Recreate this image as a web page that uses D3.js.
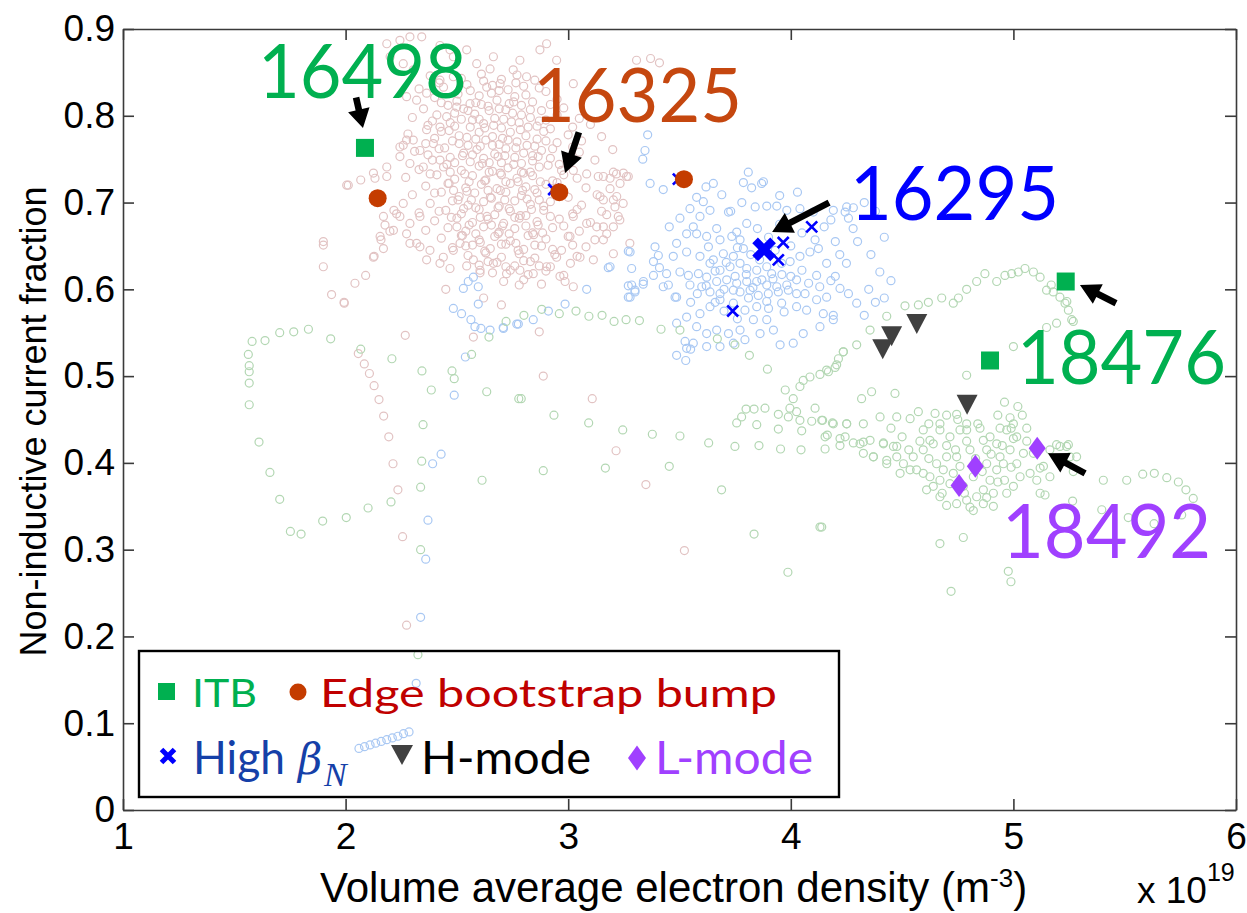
<!DOCTYPE html>
<html>
<head>
<meta charset="utf-8">
<script src="https://cdn.jsdelivr.net/npm/d3@7"></script>
<style>
  body { margin: 0; background: #fff; }
  svg { display: block; }
</style>
</head>
<body>
<svg id="chart" width="1247" height="913"></svg>
<script>
// ---- axis ticks ----
const xTicks = [1, 2, 3, 4, 5, 6];
const yTicks = [0, 0.1, 0.2, 0.3, 0.4, 0.5, 0.6, 0.7, 0.8, 0.9];

// ---- background database points (density, non-inductive fraction) ----
const pinkPoints = [
  // main cloud
  [2.38,0.846],[2.52,0.843],[2.61,0.848],[2.70,0.842],[2.77,0.847],[2.85,0.841],
  [2.44,0.833],[2.56,0.829],[2.66,0.835],[2.73,0.830],[2.80,0.834],[2.90,0.828],[2.33,0.831],
  [2.40,0.821],[2.50,0.817],[2.60,0.823],[2.68,0.818],[2.76,0.822],[2.84,0.816],[2.95,0.819],
  [2.35,0.808],[2.46,0.812],[2.55,0.806],[2.64,0.811],[2.72,0.807],[2.79,0.812],[2.88,0.806],[2.98,0.809],
  [2.30,0.798],[2.41,0.801],[2.52,0.796],[2.58,0.802],[2.67,0.797],[2.75,0.803],[2.83,0.798],[2.95,0.801],[3.05,0.797],
  [2.37,0.789],[2.47,0.792],[2.56,0.787],[2.62,0.791],[2.70,0.786],[2.78,0.792],[2.86,0.788],[2.92,0.785],[3.10,0.790],
  [2.28,0.779],[2.43,0.782],[2.51,0.777],[2.60,0.781],[2.66,0.776],[2.74,0.781],[2.81,0.777],[2.89,0.782],[3.00,0.778],[3.15,0.776],
  [2.36,0.768],[2.48,0.771],[2.55,0.766],[2.63,0.772],[2.69,0.767],[2.77,0.770],[2.85,0.765],[2.95,0.769],[3.06,0.771],
  [2.31,0.759],[2.42,0.762],[2.53,0.757],[2.59,0.761],[2.67,0.756],[2.72,0.762],[2.80,0.757],[2.88,0.760],[3.05,0.758],[3.20,0.761],
  [2.39,0.749],[2.47,0.752],[2.56,0.747],[2.62,0.751],[2.70,0.746],[2.76,0.752],[2.84,0.748],[2.92,0.751],[3.00,0.746],[3.12,0.749],
  [2.33,0.738],[2.44,0.741],[2.52,0.737],[2.60,0.742],[2.66,0.736],[2.73,0.740],[2.79,0.735],[2.87,0.741],[2.97,0.737],
  [2.27,0.729],[2.41,0.732],[2.49,0.727],[2.57,0.731],[2.63,0.726],[2.70,0.732],[2.77,0.728],[2.84,0.731],[2.93,0.725],[3.04,0.728],
  [2.36,0.719],[2.46,0.722],[2.54,0.717],[2.61,0.721],[2.68,0.716],[2.74,0.722],[2.81,0.718],[2.90,0.721],[3.08,0.717],
  [2.30,0.709],[2.43,0.712],[2.51,0.707],[2.58,0.711],[2.65,0.706],[2.72,0.712],[2.79,0.708],[2.86,0.711],[3.00,0.706],[3.13,0.709],
  [2.38,0.699],[2.48,0.702],[2.55,0.697],[2.62,0.701],[2.69,0.696],[2.76,0.702],[2.83,0.698],[2.92,0.701],[3.06,0.697],
  [2.33,0.688],[2.45,0.691],[2.52,0.687],[2.60,0.692],[2.67,0.686],[2.74,0.690],[2.81,0.685],[2.89,0.691],[3.02,0.687],[3.15,0.690],
  [2.40,0.679],[2.50,0.682],[2.57,0.677],[2.64,0.681],[2.71,0.676],[2.78,0.682],[2.86,0.678],[2.96,0.681],[3.10,0.677],
  [2.36,0.668],[2.46,0.671],[2.54,0.667],[2.62,0.672],[2.69,0.666],[2.76,0.670],[2.84,0.665],[2.93,0.671],[3.05,0.667],
  [2.43,0.659],[2.52,0.662],[2.60,0.657],[2.67,0.661],[2.74,0.656],[2.82,0.662],[2.90,0.658],[3.00,0.661],[3.12,0.657],
  [2.48,0.648],[2.57,0.651],[2.65,0.647],[2.72,0.652],[2.80,0.646],[2.88,0.650],[2.97,0.645],[3.08,0.649],
  [2.55,0.639],[2.63,0.642],[2.70,0.637],[2.78,0.641],[2.85,0.636],[2.94,0.640],[3.04,0.638],
  [2.60,0.628],[2.68,0.631],[2.76,0.627],[2.83,0.632],[2.92,0.626],[3.01,0.630],
  [2.66,0.619],[2.74,0.622],[2.82,0.617],[2.90,0.621],[2.98,0.616],
  [2.71,0.609],[2.80,0.611],[2.88,0.606],
  [2.505,0.825],[2.585,0.815],[2.655,0.826],[2.735,0.814],[2.81,0.824],
  [2.49,0.803],[2.57,0.795],[2.645,0.806],[2.71,0.796],[2.79,0.801],[2.87,0.794],
  [2.465,0.783],[2.545,0.775],[2.625,0.786],[2.705,0.774],[2.785,0.784],[2.86,0.773],
  [2.445,0.763],[2.525,0.754],[2.605,0.765],[2.685,0.753],[2.765,0.763],[2.84,0.754],[2.93,0.762],
  [2.455,0.744],[2.535,0.733],[2.615,0.745],[2.695,0.734],[2.755,0.744],[2.83,0.735],[2.91,0.743],
  [2.465,0.722],[2.545,0.713],[2.625,0.725],[2.695,0.714],[2.775,0.724],[2.85,0.715],[2.95,0.723],
  [2.505,0.703],[2.585,0.694],[2.655,0.705],[2.735,0.693],[2.815,0.704],[2.89,0.696],
  [2.475,0.683],[2.555,0.674],[2.635,0.684],[2.705,0.673],[2.785,0.685],[2.865,0.674],
  [2.525,0.662],[2.605,0.654],[2.685,0.664],[2.765,0.653],[2.845,0.663],
  [2.42,0.838],[2.545,0.836],[2.62,0.840],[2.69,0.829],[2.765,0.838],[2.87,0.832],
  [2.43,0.815],[2.53,0.808],[2.61,0.813],[2.69,0.808],[2.755,0.816],[2.83,0.807],[2.92,0.813],
  [2.39,0.794],[2.49,0.788],[2.60,0.796],[2.665,0.789],[2.745,0.793],[2.82,0.787],[2.90,0.795],[3.02,0.787],
  [2.40,0.774],[2.51,0.768],[2.585,0.773],[2.66,0.766],[2.73,0.772],[2.815,0.766],[2.90,0.771],[3.02,0.764],
  [2.37,0.755],[2.49,0.746],[2.57,0.755],[2.645,0.746],[2.715,0.754],[2.79,0.745],[2.865,0.753],[2.96,0.744],
  [2.38,0.733],[2.47,0.735],[2.555,0.724],[2.645,0.735],[2.72,0.724],[2.80,0.734],[2.875,0.724],[2.98,0.732],
  [2.40,0.711],[2.485,0.714],[2.565,0.703],[2.64,0.714],[2.715,0.703],[2.795,0.714],[2.87,0.703],[2.96,0.712],
  [2.42,0.690],[2.53,0.693],[2.605,0.683],[2.685,0.694],[2.76,0.683],[2.835,0.692],[2.92,0.684],[3.04,0.692],
  [2.50,0.672],[2.585,0.664],[2.655,0.674],[2.735,0.664],[2.81,0.673],[2.885,0.665],[2.98,0.673],
  [2.54,0.650],[2.625,0.644],[2.70,0.652],[2.775,0.645],[2.85,0.651],[2.93,0.646],[3.02,0.651],
  [2.64,0.632],[2.72,0.626],[2.80,0.633],[2.87,0.627],
  // upper fringe
  [2.185,0.883],[2.244,0.887],[2.289,0.891],[2.342,0.891],[2.200,0.868],[2.259,0.860],[2.304,0.853],
  [2.274,0.822],[2.319,0.818],[2.364,0.826],[2.424,0.841],[2.484,0.845],[2.544,0.876],[2.484,0.868],
  [2.589,0.860],[2.649,0.854],[2.634,0.833],[2.694,0.837],[2.454,0.799],[2.499,0.810],[2.559,0.814],
  [2.424,0.787],[2.364,0.784],[2.304,0.772],[2.259,0.766],[2.334,0.760],[2.394,0.768],
  [2.244,0.753],[2.289,0.745],[2.349,0.741],[2.424,0.749],
  [2.424,0.881],[2.469,0.876],[2.664,0.868],[2.753,0.853],[2.783,0.864],[2.813,0.845],
  [2.873,0.876],[2.903,0.883],[2.948,0.864],[3.023,0.837],[3.307,0.864],[3.37,0.866],[3.41,0.861],
  // left fringe
  [2.012,0.720],[2.068,0.726],[2.125,0.734],[2.132,0.728],[2.185,0.741],[2.217,0.691],[2.229,0.687],
  [2.177,0.674],[2.199,0.667],[2.159,0.657],[2.170,0.647],[2.128,0.638],[2.090,0.616],[2.042,0.607],
  [1.937,0.594],[1.993,0.585],[1.900,0.655],[1.900,0.651],[1.900,0.626],[2.244,0.684],[2.274,0.664],
  [2.289,0.653],[2.334,0.649],[2.379,0.645],[2.439,0.637],[2.484,0.645],[2.514,0.653],[2.574,0.634],
  [2.604,0.622],[2.664,0.630],[2.005,0.720],[2.185,0.730],[2.244,0.764],[2.274,0.772],[2.170,0.684],
  [2.215,0.668],[2.155,0.661],[2.125,0.637],[2.259,0.699],[2.289,0.676],[2.319,0.653],[2.364,0.634],
  [2.334,0.684],[2.424,0.630],[2.469,0.624],[2.544,0.627],[2.604,0.619],[2.723,0.618],[2.783,0.622],
  [2.843,0.618],[2.903,0.626],[2.963,0.615],[2.45,0.600],[2.62,0.590],[2.78,0.605],[2.70,0.582],
  // right fringe
  [3.023,0.737],[3.083,0.733],[3.135,0.730],[3.188,0.728],[3.217,0.733],[3.262,0.730],[3.143,0.707],
  [3.203,0.703],[3.247,0.699],[3.023,0.684],[3.083,0.676],[3.128,0.672],[3.173,0.664],[3.232,0.680],
  [3.008,0.661],[3.053,0.637],[3.113,0.634],[2.948,0.637],[3.277,0.653],
  [3.158,0.730],[3.203,0.735],[3.248,0.734],[3.270,0.730],[3.233,0.722],[3.188,0.716],[3.218,0.707],
  [3.158,0.703],[3.210,0.695],[3.173,0.686],[3.225,0.684],[3.158,0.672],[3.203,0.672],[3.158,0.657],[3.203,0.641],
  // descending trail and scattered low points
  [1.994,0.584],[2.268,0.547],[2.574,0.545],[2.057,0.526],[2.084,0.514],[2.107,0.503],[2.128,0.489],
  [2.150,0.473],[2.171,0.454],[2.194,0.430],[2.213,0.399],[2.235,0.369],[2.256,0.315],[2.274,0.213],
  [2.986,0.609],[3.023,0.603],[2.870,0.551],[2.888,0.500],[3.108,0.474],[3.215,0.414],[3.349,0.375],[3.522,0.299]
];

const bluePoints = [
  [3.357,0.778],[3.345,0.760],[3.335,0.750],[3.368,0.722],[3.427,0.715],[3.619,0.718],[3.652,0.722],
  [3.690,0.709],[3.577,0.706],[3.607,0.701],[3.547,0.693],[3.502,0.682],[3.454,0.672],[3.562,0.672],
  [3.592,0.684],[3.637,0.691],[3.720,0.689],[3.787,0.723],[3.809,0.735],[3.824,0.717],[3.869,0.722],
  [3.892,0.696],[3.937,0.696],[3.982,0.691],[4.041,0.693],[4.101,0.689],[4.191,0.691],[4.244,0.689],
  [4.281,0.694],[4.259,0.682],[3.802,0.676],[3.757,0.666],[3.667,0.670],[3.622,0.661],[3.577,0.664],
  [3.532,0.664],[3.487,0.653],[3.390,0.649],[3.405,0.639],[3.472,0.638],[3.532,0.643],[3.630,0.649],
  [3.682,0.657],[3.735,0.661],[3.772,0.657],[3.787,0.647],[3.742,0.638],[3.697,0.641],[3.652,0.634],
  [3.592,0.638],[3.637,0.630],[3.682,0.622],[3.727,0.626],[3.772,0.630],[3.802,0.624],[3.847,0.622],
  [3.892,0.626],[3.914,0.618],[3.959,0.630],[3.997,0.632],[4.041,0.638],[4.086,0.643],[4.109,0.657],
  [4.124,0.647],[4.161,0.630],[4.116,0.616],[4.026,0.611],[3.982,0.605],[3.937,0.603],[3.892,0.605],
  [3.847,0.609],[3.802,0.609],[3.757,0.607],[3.712,0.611],[3.667,0.609],[3.622,0.614],[3.585,0.618],
  [3.540,0.616],[3.502,0.620],[3.442,0.618],[3.383,0.616],[3.338,0.609],[3.285,0.605],[3.270,0.591],
  [3.300,0.597],[3.427,0.603],[3.480,0.591],[3.547,0.605],[3.600,0.603],[3.637,0.597],[3.682,0.595],
  [3.742,0.599],[3.772,0.597],[3.817,0.599],[3.854,0.593],[3.899,0.595],[3.944,0.597],[3.989,0.599],
  [4.026,0.595],[4.064,0.595],[4.116,0.588],[4.161,0.591],[4.221,0.601],[4.259,0.595],[4.296,0.584],
  [4.191,0.570],[4.146,0.572],[4.071,0.576],[4.026,0.580],[3.959,0.584],[3.892,0.586],[3.847,0.580],
  [3.794,0.576],[3.742,0.584],[3.682,0.588],[3.637,0.580],[3.592,0.572],[3.532,0.568],[3.487,0.561],
  [3.577,0.557],[3.622,0.549],[3.667,0.553],[3.720,0.549],[3.772,0.553],[3.832,0.565],[3.892,0.565],
  [3.922,0.553],[3.862,0.549],[3.794,0.542],[3.742,0.538],[3.682,0.534],[3.622,0.534],[3.562,0.538],
  [3.532,0.532],[3.487,0.524],[3.952,0.536],[4.011,0.538],[4.056,0.549],[4.131,0.557],[4.191,0.565],
  [3.188,0.626],[3.278,0.643],[3.383,0.632],
  [3.70,0.600],[3.75,0.615],[3.80,0.617],[3.83,0.602],[3.87,0.611],[3.92,0.612],[3.96,0.617],
  [3.86,0.634],[3.82,0.640],[3.76,0.648],[3.71,0.631],[3.66,0.621],[3.62,0.604],[3.70,0.575],
  [3.76,0.566],[3.81,0.590],[3.90,0.578],[3.97,0.574],[4.00,0.615],[4.05,0.622],[4.08,0.607],
  [4.13,0.603],[4.18,0.610],[4.00,0.650],[3.93,0.645],[3.90,0.660],[3.85,0.670],[3.95,0.675],
  [4.05,0.665],[4.15,0.672],[4.20,0.655],[4.22,0.640],[4.18,0.680],[4.28,0.670],[3.73,0.690],
  [3.78,0.700],[3.84,0.695],[3.95,0.708],[4.03,0.712],[3.66,0.585],[3.55,0.585],[3.58,0.595],
  [3.45,0.605],[3.41,0.625],
  [2.709,0.555],[2.776,0.560],[2.843,0.565],[2.911,0.575],[2.986,0.583],[3.083,0.600],[3.270,0.604],
  [3.300,0.599],[3.337,0.606],[3.278,0.591],[3.487,0.591],[3.528,0.518],[3.550,0.531],[3.525,0.540],
  [3.270,0.644],[3.285,0.624],[3.180,0.625],
  [3.877,0.724],[4.251,0.695],[4.33,0.700],[4.38,0.690],[4.42,0.660],[4.36,0.640],[4.30,0.655],
  [4.25,0.630],[4.20,0.615],[4.40,0.620],[4.35,0.600],[4.38,0.585],[4.42,0.590],[4.33,0.570],[4.45,0.610],
  [2.484,0.578],[2.521,0.572],[2.563,0.565],[2.581,0.557],[2.608,0.555],[2.649,0.553],[2.708,0.556],
  [2.769,0.560],[2.596,0.583],[2.538,0.522],[2.488,0.478],[2.429,0.410],[2.391,0.399],[2.370,0.334],
  [2.360,0.289],[2.337,0.222],
  [2.529,0.601],[2.574,0.614],[2.596,0.603],[2.551,0.609],
  [2.060,0.071],[2.085,0.073],[2.110,0.075],[2.135,0.077],[2.160,0.079],[2.185,0.081],[2.210,0.083],
  [2.235,0.085],[2.260,0.088],[2.285,0.090],[2.317,0.146]
];

const greenPoints = [
  // left loop
  [1.563,0.525],[1.567,0.512],[1.567,0.505],[1.567,0.492],[1.567,0.467],[1.580,0.540],[1.638,0.541],
  [1.704,0.550],[1.767,0.551],[1.833,0.554],[1.933,0.543],[2.068,0.531],[2.208,0.520],[2.343,0.506],
  [2.385,0.484],[2.478,0.506],[2.488,0.497],[2.634,0.482],[2.566,0.525],[2.644,0.545],[2.721,0.563],
  [2.348,0.444],[2.342,0.402],[2.337,0.372],[2.204,0.355],[2.101,0.348],[2.003,0.337],[1.897,0.333],
  [1.800,0.318],[1.752,0.321],[1.704,0.358],[1.660,0.389],[1.611,0.424],[2.337,0.300],[2.613,0.380],
  [2.778,0.474],[2.325,0.179],
  // middle band
  [2.801,0.570],[2.881,0.577],[2.960,0.572],[3.035,0.575],[3.093,0.569],[3.152,0.570],[3.206,0.563],
  [3.260,0.565],[3.320,0.564],[3.417,0.554],[3.502,0.553],[3.670,0.543],[3.749,0.536],[3.814,0.524],
  [3.895,0.508],[3.975,0.484],[4.041,0.488],[4.056,0.495],[4.086,0.499],[4.131,0.502],[4.169,0.505],
  [4.199,0.510],[4.214,0.520],[4.236,0.528],[4.011,0.474],[3.996,0.463],[4.026,0.459],[3.989,0.453],
  [3.944,0.456],[3.884,0.463],[3.835,0.462],[3.799,0.462],[3.779,0.453],[3.757,0.446],[3.847,0.444],
  [3.944,0.439],[4.049,0.437],[4.041,0.449],[4.094,0.448],[4.109,0.463],[4.143,0.449],[4.187,0.446],
  [4.251,0.445],[4.164,0.432],[4.244,0.430],[4.221,0.420],[4.154,0.416],[4.046,0.415],[3.954,0.416],
  [3.857,0.420],[3.749,0.419],[3.631,0.423],[3.502,0.431],[3.378,0.433],[3.245,0.438],[3.092,0.446],
  [2.936,0.455],[2.789,0.474],[2.888,0.391],[3.167,0.394],[3.454,0.396],[3.689,0.369],[3.835,0.318],
  [4.131,0.326],[3.987,0.274],
  // upper loop toward 18476
  [4.161,0.507],[4.206,0.513],[4.236,0.528],[4.296,0.536],[4.356,0.553],[4.431,0.569],[4.513,0.581],
  [4.573,0.582],[4.618,0.585],[4.678,0.590],[4.730,0.584],[4.753,0.590],[4.790,0.600],[4.835,0.609],
  [4.872,0.618],[4.925,0.609],[4.962,0.616],[4.992,0.618],[5.022,0.620],[5.052,0.624],[5.090,0.620],
  [5.120,0.614],[5.149,0.599],[5.179,0.597],[5.209,0.591],[5.232,0.584],[5.247,0.576],[5.262,0.565],
  [5.269,0.563],[5.194,0.561],[5.149,0.556],[5.000,0.534],[4.790,0.501],[4.468,0.480],[4.363,0.482],
  [4.318,0.474],[5.17,0.605],[5.24,0.586],
  // dense cluster near 18492
  [4.139,0.449],[4.191,0.445],[4.251,0.445],[4.326,0.445],[4.401,0.453],[4.476,0.453],[4.536,0.451],
  [4.573,0.459],[4.648,0.457],[4.745,0.456],[4.790,0.445],[4.154,0.430],[4.221,0.428],[4.281,0.423],
  [4.326,0.424],[4.371,0.407],[4.416,0.423],[4.476,0.419],[4.431,0.403],
  [4.670,0.438],[4.715,0.430],[4.760,0.438],[4.640,0.422],[4.595,0.415],[4.550,0.407],[4.506,0.399],
  [4.565,0.392],[4.625,0.384],[4.685,0.392],[4.745,0.407],[4.805,0.415],[4.865,0.426],[4.895,0.430],
  [4.925,0.422],[4.970,0.438],[5.000,0.445],[5.015,0.430],[4.985,0.415],[4.955,0.399],[4.925,0.392],
  [4.895,0.380],[4.865,0.369],[4.835,0.361],[4.790,0.357],[4.745,0.353],[4.700,0.351],[4.670,0.361],
  [4.640,0.373],[4.610,0.369],[4.715,0.376],[4.775,0.373],[4.820,0.384],[4.880,0.399],[4.940,0.407],
  [5.015,0.399],[5.030,0.384],[5.000,0.373],[4.970,0.365],[4.910,0.365],[4.865,0.353],[4.805,0.349],
  [4.760,0.396],[4.700,0.407],[4.655,0.399],[4.595,0.388],[4.536,0.392],[4.491,0.388],[4.476,0.407],
  [4.431,0.399],[4.461,0.419],[4.416,0.422],[4.356,0.426],[4.311,0.422],[4.326,0.411],[4.371,0.407],
  [4.595,0.438],[4.625,0.426],[4.670,0.445],[4.790,0.438],[4.880,0.415],[5.045,0.411],[5.075,0.388],
  [5.105,0.380],[5.135,0.396],[5.164,0.415],[5.194,0.421],[5.239,0.419],[5.254,0.407],[5.120,0.365],
  [5.284,0.407],[5.269,0.390],[5.247,0.421],[5.209,0.419],[5.164,0.384],[5.120,0.394],[5.090,0.411],
  [4.990,0.440],[5.000,0.428],[4.985,0.452],[4.850,0.440],[4.930,0.455],
  [4.70,0.420],[4.74,0.415],[4.79,0.425],[4.83,0.405],[4.86,0.390],[4.90,0.410],[4.95,0.420],
  [4.99,0.395],[4.93,0.378],[4.88,0.360],[4.78,0.365],[4.73,0.388],[4.67,0.380],[4.62,0.405],
  [4.58,0.425],[4.53,0.415],[4.50,0.430],[4.45,0.440],[5.04,0.455],[5.06,0.440],[5.02,0.465],
  [5.06,0.425],[4.96,0.470],[4.94,0.440],[4.84,0.445],[4.75,0.450],[4.70,0.455],[4.62,0.445],
  [4.68,0.365],[4.82,0.345],[4.91,0.350],[4.96,0.380],
  // tail to the right and scattered low points
  [5.404,0.380],[5.509,0.380],[5.581,0.387],[5.633,0.388],[5.689,0.383],[5.741,0.378],[5.775,0.369],
  [5.808,0.359],[5.756,0.340],[5.632,0.330],[5.516,0.337],[5.397,0.346],[5.266,0.356],[5.142,0.363],
  [4.977,0.275],[4.989,0.263],[4.720,0.252],[4.670,0.307],[4.775,0.314],[4.139,0.326]
];

// ---- highlighted discharges ----
const itbPoints = [[2.087, 0.763], [5.235, 0.609], [4.895, 0.518]];
const edgeBumpPoints = [[2.144, 0.705], [2.960, 0.712], [3.520, 0.727]];
const highBetaPoints = [[2.075, 0.763], [2.935, 0.715], [3.495, 0.727], [3.966, 0.654], [3.944, 0.634], [4.094, 0.672], [3.739, 0.575]];
const highBetaSelected = [[3.880, 0.646]];
const hModePoints = [[4.413, 0.531], [4.453, 0.546], [4.566, 0.560], [4.792, 0.467]];
const lModePoints = [[4.756, 0.374], [4.829, 0.396], [5.107, 0.417]];

// ---- shot number callouts: label, text anchor (left, baseline), arrow tail, arrow head ----
const callouts = [
  { label: "16498", color: "#00b050", text: [1.606, 0.821], tail: [2.047, 0.821], head: [2.078, 0.786] },
  { label: "16325", color: "#c5470f", text: [2.842, 0.793], tail: [3.048, 0.781], head: [2.986, 0.734] },
  { label: "16295", color: "#0000ff", text: [4.266, 0.680], tail: [4.172, 0.700], head: [3.916, 0.666] },
  { label: "18476", color: "#00b050", text: [5.016, 0.491], tail: [5.461, 0.584], head: [5.299, 0.605] },
  { label: "18492", color: "#a040ff", text: [4.949, 0.290], tail: [5.322, 0.388], head: [5.155, 0.411] }
];

// ---- layout ----
const svg = d3.select("#chart");
const x = d3.scaleLinear().domain([1, 6]).range([123, 1236]);
const y = d3.scaleLinear().domain([0, 0.9]).range([810, 29]);
const axisColor = "#3a3a3a";
const sansAxis = "'Liberation Sans', Arial, sans-serif";
const sansNote = "Lato, 'Open Sans', sans-serif";

// ---- axes (box with inward ticks) ----
function styleAxis(g) {
  g.select(".domain").attr("stroke", axisColor).attr("stroke-width", 1.6);
  g.selectAll(".tick line").attr("stroke", axisColor).attr("stroke-width", 1.6);
  g.selectAll(".tick text").attr("fill", "#000").style("font-family", sansAxis).style("font-size", "37px");
}
svg.append("g").attr("transform", `translate(0,${y(0)})`)
  .call(d3.axisBottom(x).tickValues(xTicks).tickSizeInner(-11).tickSizeOuter(0).tickPadding(13).tickFormat(d3.format("d")))
  .call(styleAxis);
svg.append("g").attr("transform", `translate(0,${y(0.9)})`)
  .call(d3.axisTop(x).tickValues(xTicks).tickSizeInner(-11).tickSizeOuter(0).tickFormat(() => ""))
  .call(styleAxis);
svg.append("g").attr("transform", `translate(${x(1)},0)`)
  .call(d3.axisLeft(y).tickValues(yTicks).tickSizeInner(-11).tickSizeOuter(0).tickPadding(8)
    .tickFormat(d => d === 0 ? "0" : d3.format(".1f")(d)))
  .call(styleAxis);
svg.append("g").attr("transform", `translate(${x(6)},0)`)
  .call(d3.axisRight(y).tickValues(yTicks).tickSizeInner(-11).tickSizeOuter(0).tickFormat(() => ""))
  .call(styleAxis);

// axis titles
const xt = svg.append("text").attr("x", 320).attr("y", 902)
  .style("font-family", sansAxis).style("font-size", "42px").attr("fill", "#000");
xt.append("tspan").text("Volume average electron density (m");
xt.append("tspan").attr("dy", -15).style("font-size", "26px").text("-3");
xt.append("tspan").attr("dy", 15).text(")");

const xe = svg.append("text").attr("x", 1137).attr("y", 903)
  .style("font-family", sansAxis).style("font-size", "37px").attr("fill", "#000");
xe.append("tspan").text("x 10");
xe.append("tspan").attr("dy", -22).style("font-size", "25px").text("19");

svg.append("text")
  .attr("transform", `translate(46,${(y(0) + y(0.9)) / 2 + 2}) rotate(-90)`)
  .attr("text-anchor", "middle")
  .style("font-family", sansAxis).style("font-size", "36px").attr("fill", "#000")
  .text("Non-inductive current fraction");

// ---- background points ----
const bg = svg.append("g").attr("fill", "none").attr("stroke-width", 1.2);
bg.append("g").attr("stroke", "#e2c3c3").selectAll("circle").data(pinkPoints).join("circle")
  .attr("cx", d => x(d[0])).attr("cy", d => y(d[1])).attr("r", 4);
bg.append("g").attr("stroke", "#a9c8f3").selectAll("circle").data(bluePoints).join("circle")
  .attr("cx", d => x(d[0])).attr("cy", d => y(d[1])).attr("r", 4);
bg.append("g").attr("stroke", "#b3d7b3").selectAll("circle").data(greenPoints).join("circle")
  .attr("cx", d => x(d[0])).attr("cy", d => y(d[1])).attr("r", 4);

// ---- marker shapes ----
const crossPath = s => `M${-s},${-s}L${s},${s}M${-s},${s}L${s},${-s}`;
const triDown = (w, h) => `M${-w / 2},${-h / 2}L${w / 2},${-h / 2}L0,${h / 2}Z`;
const diamond = (w, h) => `M0,${-h / 2}L${w / 2},0L0,${h / 2}L${-w / 2},0Z`;

const marks = svg.append("g");
marks.selectAll("path.hb").data(highBetaPoints).join("path").attr("class", "hb")
  .attr("transform", d => `translate(${x(d[0])},${y(d[1])})`)
  .attr("d", crossPath(5.5)).attr("stroke", "#0000ff").attr("stroke-width", 2.6).attr("fill", "none");
marks.selectAll("path.hbs").data(highBetaSelected).join("path").attr("class", "hbs")
  .attr("transform", d => `translate(${x(d[0])},${y(d[1])})`)
  .attr("d", crossPath(9)).attr("stroke", "#0000ff").attr("stroke-width", 8).attr("fill", "none");
marks.selectAll("rect.itb").data(itbPoints).join("rect").attr("class", "itb")
  .attr("x", d => x(d[0]) - 9).attr("y", d => y(d[1]) - 9).attr("width", 18).attr("height", 18)
  .attr("fill", "#00b050");
marks.selectAll("circle.eb").data(edgeBumpPoints).join("circle").attr("class", "eb")
  .attr("cx", d => x(d[0])).attr("cy", d => y(d[1])).attr("r", 9).attr("fill", "#c43c00");
marks.selectAll("path.hm").data(hModePoints).join("path").attr("class", "hm")
  .attr("transform", d => `translate(${x(d[0])},${y(d[1])})`)
  .attr("d", triDown(21, 20)).attr("fill", "#404040");
marks.selectAll("path.lm").data(lModePoints).join("path").attr("class", "lm")
  .attr("transform", d => `translate(${x(d[0])},${y(d[1])})`)
  .attr("d", diamond(17, 23)).attr("fill", "#a040ff");

// ---- callouts ----
function arrowPath(x0, y0, x1, y1) {
  const dx = x1 - x0, dy = y1 - y0, len = Math.hypot(dx, dy);
  const ux = dx / len, uy = dy / len, nx = -uy, ny = ux;
  const headLen = Math.min(20, len * 0.6), headW = 11, shaft = 3.3;
  const bx = x1 - ux * headLen, by = y1 - uy * headLen;
  const p = [
    [x0 + nx * shaft, y0 + ny * shaft], [bx + nx * shaft, by + ny * shaft],
    [bx + nx * headW, by + ny * headW], [x1, y1],
    [bx - nx * headW, by - ny * headW], [bx - nx * shaft, by - ny * shaft],
    [x0 - nx * shaft, y0 - ny * shaft]
  ];
  return "M" + p.map(q => q.join(",")).join("L") + "Z";
}
const notes = svg.append("g");
notes.selectAll("path").data(callouts).join("path")
  .attr("d", d => arrowPath(x(d.tail[0]), y(d.tail[1]), x(d.head[0]), y(d.head[1])))
  .attr("fill", "#000");
notes.selectAll("text").data(callouts).join("text")
  .attr("x", d => x(d.text[0])).attr("y", d => y(d.text[1]))
  .attr("fill", d => d.color)
  .style("font-family", sansNote).style("font-size", "75px")
  .attr("textLength", 209).attr("lengthAdjust", "spacingAndGlyphs")
  .text(d => d.label);

// ---- legend ----
const lg = svg.append("g");
lg.append("rect").attr("x", 139).attr("y", 651).attr("width", 700).attr("height", 146)
  .attr("fill", "none").attr("stroke", "#000").attr("stroke-width", 2.4);

lg.append("rect").attr("x", 158).attr("y", 683).attr("width", 17).attr("height", 17).attr("fill", "#00b050");
lg.append("text").attr("x", 192).attr("y", 707).attr("fill", "#00b050")
  .style("font-family", sansNote).style("font-size", "39px")
  .attr("textLength", 65).attr("lengthAdjust", "spacingAndGlyphs").text("ITB");
lg.append("circle").attr("cx", 298).attr("cy", 692).attr("r", 8.5).attr("fill", "#c43c00");
lg.append("text").attr("x", 320).attr("y", 707).attr("fill", "#c00000")
  .style("font-family", sansNote).style("font-size", "39px")
  .attr("textLength", 457).attr("lengthAdjust", "spacingAndGlyphs").text("Edge bootstrap bump");

lg.append("path").attr("transform", "translate(168,756)").attr("d", crossPath(6.5))
  .attr("stroke", "#0000ff").attr("stroke-width", 5).attr("fill", "none");
lg.append("text").attr("x", 193).attr("y", 774).attr("fill", "#1540a8")
  .style("font-family", sansNote).style("font-size", "47px")
  .attr("textLength", 92).attr("lengthAdjust", "spacingAndGlyphs").text("High");
lg.append("text").attr("x", 298).attr("y", 774).attr("fill", "#1540a8")
  .style("font-family", "'DejaVu Serif', serif").style("font-style", "italic").style("font-size", "42px")
  .text("β");
lg.append("text").attr("x", 324).attr("y", 786).attr("fill", "#1540a8")
  .style("font-family", "'Liberation Serif', serif").style("font-style", "italic").style("font-size", "34px")
  .text("N");
lg.append("path").attr("transform", "translate(402,755)").attr("d", triDown(22, 20)).attr("fill", "#404040");
lg.append("text").attr("x", 421).attr("y", 774).attr("fill", "#000")
  .style("font-family", sansNote).style("font-size", "47px")
  .attr("textLength", 170).attr("lengthAdjust", "spacingAndGlyphs").text("H-mode");
lg.append("path").attr("transform", "translate(637,758)").attr("d", diamond(18, 25)).attr("fill", "#a040ff");
lg.append("text").attr("x", 655).attr("y", 774).attr("fill", "#a040ff")
  .style("font-family", sansNote).style("font-size", "47px")
  .attr("textLength", 158).attr("lengthAdjust", "spacingAndGlyphs").text("L-mode");
</script>
</body>
</html>
